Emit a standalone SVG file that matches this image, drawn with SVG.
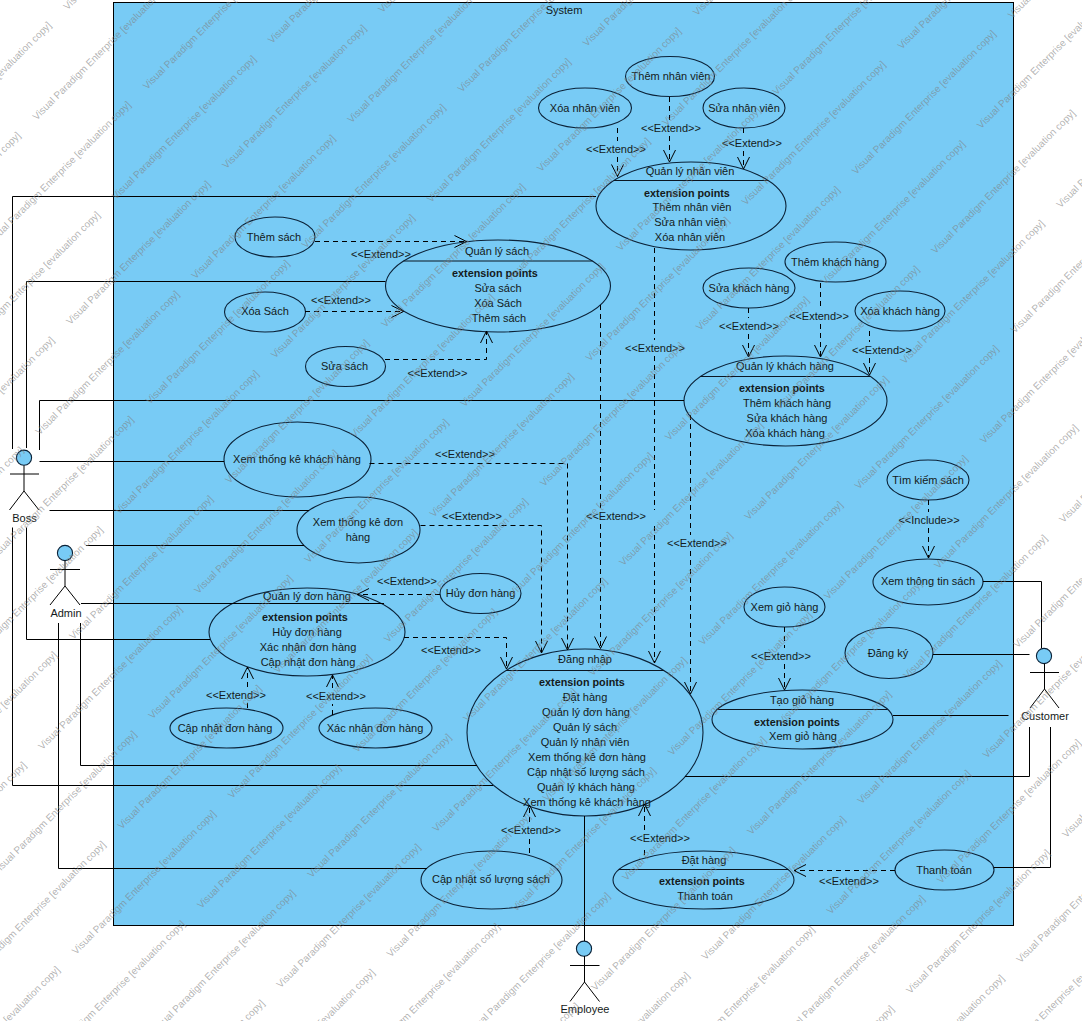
<svg xmlns="http://www.w3.org/2000/svg" width="1082" height="1021" viewBox="0 0 1082 1021">
<style>
text{font-family:"Liberation Sans",Arial,sans-serif;font-size:11px;fill:#141a20;text-anchor:middle}
.b{font-weight:bold;font-size:10.8px}
.uc{fill:#78cbf5;stroke:#0b2238;stroke-width:1.1}
.hd{fill:none;stroke:#0b1622;stroke-width:1}
.ac{fill:none;stroke:#000;stroke-width:1}
.act{fill:none;stroke:#000;stroke-width:1}
.head{fill:#78cbf5;stroke:#0b2238;stroke-width:1.1}
.ext{fill:none;stroke:#000;stroke-width:1;stroke-dasharray:5 4;marker-end:url(#open)}
#wc text{font-size:10px;fill:#7f7f7f;fill-opacity:.6;text-anchor:start}
</style>
<defs>
<marker id="open" markerUnits="userSpaceOnUse" markerWidth="16" markerHeight="16" refX="13" refY="8" orient="auto"><path d="M1,2 L13,8 L1,14" fill="none" stroke="#000" stroke-width="1"/></marker>
<g id="wc">
<text y="-61.4">Visual Paradigm Enterprise [evaluation copy]</text>
<text y="50.9">Visual Paradigm Enterprise [evaluation copy]</text>
<text y="163.2">Visual Paradigm Enterprise [evaluation copy]</text>
<text y="275.5">Visual Paradigm Enterprise [evaluation copy]</text>
<text y="387.8">Visual Paradigm Enterprise [evaluation copy]</text>
<text y="500.1">Visual Paradigm Enterprise [evaluation copy]</text>
<text y="612.4">Visual Paradigm Enterprise [evaluation copy]</text>
<text y="724.7">Visual Paradigm Enterprise [evaluation copy]</text>
<text y="837">Visual Paradigm Enterprise [evaluation copy]</text>
<text y="949.3">Visual Paradigm Enterprise [evaluation copy]</text>
<text y="1061.6">Visual Paradigm Enterprise [evaluation copy]</text>
<text y="1173.9">Visual Paradigm Enterprise [evaluation copy]</text>
<text y="1286.2">Visual Paradigm Enterprise [evaluation copy]</text>
<text y="1398.5">Visual Paradigm Enterprise [evaluation copy]</text>
<text y="1510.8">Visual Paradigm Enterprise [evaluation copy]</text>
</g>
</defs>
<rect width="1082" height="1021" fill="#fff"/>
<g id="system"><rect x="113.5" y="2.5" width="900" height="923" fill="#78cbf5" stroke="#000"/><text x="564" y="14">System</text></g>
<g id="nodes">
<g id="uc-them-nv"><ellipse class="uc" cx="670" cy="76.5" rx="44.5" ry="20"/><text x="671" y="80">Thêm nhân viên</text></g>
<g id="uc-xoa-nv"><ellipse class="uc" cx="585" cy="108" rx="46.5" ry="20"/><text x="585" y="112">Xóa nhân viên</text></g>
<g id="uc-sua-nv"><ellipse class="uc" cx="744" cy="108" rx="41" ry="20"/><text x="744" y="112">Sửa nhân viên</text></g>
<g id="uc-ql-nv"><ellipse class="uc" cx="691" cy="206" rx="95" ry="44"/><path class="hd" d="M614 180.5H768"/><text x="690" y="175">Quản lý nhân viên</text><text class="b" x="687" y="196.5">extension points</text><text x="692" y="211">Thêm nhân viên</text><text x="690" y="226">Sửa nhân viên</text><text x="690" y="241">Xóa nhân viên</text></g>
<g id="uc-ql-sach"><ellipse class="uc" cx="498" cy="286" rx="112.5" ry="46"/><path class="hd" d="M403.5 261H592.5"/><text x="497" y="255">Quản lý sách</text><text class="b" x="495" y="277">extension points</text><text x="498" y="292">Sửa sách</text><text x="498" y="307">Xóa Sách</text><text x="499" y="322">Thêm sách</text></g>
<g id="uc-them-sach"><ellipse class="uc" cx="275" cy="237" rx="40" ry="20"/><text x="274" y="241">Thêm sách</text></g>
<g id="uc-xoa-sach"><ellipse class="uc" cx="265" cy="312" rx="40.5" ry="20"/><text x="265" y="315">Xóa Sách</text></g>
<g id="uc-sua-sach"><ellipse class="uc" cx="345.5" cy="366.5" rx="40" ry="20"/><text x="344.5" y="370">Sửa sách</text></g>
<g id="uc-sua-kh"><ellipse class="uc" cx="749" cy="288" rx="46" ry="20"/><text x="749" y="292">Sửa khách hàng</text></g>
<g id="uc-them-kh"><ellipse class="uc" cx="835.5" cy="262" rx="50.5" ry="20"/><text x="835" y="266">Thêm khách hàng</text></g>
<g id="uc-xoa-kh"><ellipse class="uc" cx="900" cy="311" rx="45" ry="20"/><text x="900" y="315">Xóa khách hàng</text></g>
<g id="uc-ql-kh"><ellipse class="uc" cx="785.5" cy="401" rx="101.5" ry="45"/><path class="hd" d="M700 376.5H870.5"/><text x="785" y="370">Quản lý khách hàng</text><text class="b" x="782" y="392">extension points</text><text x="787" y="407">Thêm khách hàng</text><text x="787" y="422">Sửa khách hàng</text><text x="785" y="437">Xóa khách hàng</text></g>
<g id="uc-tk-kh"><ellipse class="uc" cx="297.5" cy="459.5" rx="73.5" ry="37.5"/><text x="297" y="463">Xem thống kê khách hàng</text></g>
<g id="uc-tk-dh"><ellipse class="uc" cx="358.5" cy="530" rx="61.5" ry="33"/><text x="358" y="526">Xem thống kê đơn</text><text x="358" y="541">hàng</text></g>
<g id="uc-tim"><ellipse class="uc" cx="928" cy="480" rx="41" ry="20"/><text x="928" y="484">Tìm kiếm sách</text></g>
<g id="uc-xem-tt"><ellipse class="uc" cx="928" cy="582" rx="55" ry="23"/><text x="928" y="585">Xem thông tin sách</text></g>
<g id="uc-dk"><ellipse class="uc" cx="889" cy="653" rx="44" ry="25.5"/><text x="888" y="657">Đăng ký</text></g>
<g id="uc-xem-gh"><ellipse class="uc" cx="784.5" cy="607" rx="40.5" ry="20"/><text x="784.5" y="611">Xem giỏ hàng</text></g>
<g id="uc-tao-gh"><ellipse class="uc" cx="802.5" cy="719.5" rx="90.5" ry="29.5"/><path class="hd" d="M717.5 709.5H887.5"/><text x="802" y="704">Tạo giỏ hàng</text><text class="b" x="797" y="725.5">extension points</text><text x="803" y="740">Xem giỏ hàng</text></g>
<g id="uc-dn"><ellipse class="uc" cx="585" cy="732.5" rx="118" ry="83.5"/><path class="hd" d="M506 670.5H664"/><text x="585" y="663">Đăng nhập</text><text class="b" x="582" y="686">extension points</text><text x="585" y="701">Đặt hàng</text><text x="586" y="716">Quản lý đơn hàng</text><text x="585" y="731">Quản lý sách</text><text x="585" y="746">Quản lý nhân viên</text><text x="587" y="761">Xem thống kê đơn hàng</text><text x="586" y="776">Cập nhật số lượng sách</text><text x="586" y="791">Quản lý khách hàng</text><text x="587" y="806">Xem thống kê khách hàng</text></g>
<g id="uc-dat"><ellipse class="uc" cx="703.5" cy="880" rx="90.5" ry="29"/><path class="hd" d="M619 869.5H788"/><text x="704" y="864">Đặt hàng</text><text class="b" x="702" y="885">extension points</text><text x="705" y="900">Thanh toán</text></g>
<g id="uc-cn-sl"><ellipse class="uc" cx="491.5" cy="880" rx="70.5" ry="29"/><text x="491" y="883">Cập nhật số lượng sách</text></g>
<g id="uc-tt"><ellipse class="uc" cx="944.5" cy="870" rx="49.5" ry="20"/><text x="944" y="874">Thanh toán</text></g>
<g id="uc-ql-dh"><ellipse class="uc" cx="307" cy="632" rx="98" ry="44"/><text x="307" y="600">Quản lý đơn hàng</text><text class="b" x="305" y="621">extension points</text><text x="307" y="636">Hủy đơn hàng</text><text x="308" y="651">Xác nhận đơn hàng</text><text x="308" y="666">Cập nhật đơn hàng</text></g>
<g id="uc-huy"><ellipse class="uc" cx="480.5" cy="593.5" rx="40.5" ry="20"/><text x="480.5" y="597">Hủy đơn hàng</text></g>
<g id="uc-cn-dh"><ellipse class="uc" cx="226.5" cy="728" rx="56.5" ry="20"/><text x="225" y="732">Cập nhật đơn hàng</text></g>
<g id="uc-xn-dh"><ellipse class="uc" cx="375.5" cy="728" rx="56.5" ry="20"/><text x="375" y="732">Xác nhận đơn hàng</text></g>
<g id="actor-boss"><circle class="head" cx="24" cy="457.7" r="7.6"/><path class="act" d="M24 465.5V491M10 474H39M24 491L9.5 510M24 491L39 510"/><text x="24.5" y="522">Boss</text></g>
<g id="actor-admin"><circle class="head" cx="65" cy="553" r="7.6"/><path class="act" d="M65 560.5V586M50 569.5H80M65 586L50 605M65 586L80 605"/><text x="66" y="617">Admin</text></g>
<g id="actor-employee"><circle class="head" cx="584" cy="948.7" r="7.6"/><path class="act" d="M584.5 956V982M570 965.5H599.5M584.5 982L570 1001.5M584.5 982L599.5 1001.5"/><text x="585" y="1013">Employee</text></g>
<g id="actor-customer"><circle class="head" cx="1044" cy="656" r="7.6"/><path class="act" d="M1044.5 663.5V689M1030 672.5H1059M1044.5 689L1030 708M1044.5 689L1059 708"/><text x="1045" y="720">Customer</text></g>
</g>
<g id="connectors">
<path class="ac" d="M12.5 449V196.5H596"/>
<path class="ac" d="M26.5 448V281.5H385.5"/>
<path class="ac" d="M39.5 450V400.5H684"/>
<path class="ac" d="M39.5 461.5H224"/>
<path class="ac" d="M49.5 510.5H309"/>
<path class="ac" d="M26.5 527.5V639.5H210"/>
<path class="ac" d="M12.5 527.5V785.5H493"/>
<path class="ac" d="M86 545.5H304"/>
<path class="ac" d="M81 603.5H384"/>
<path class="ac" d="M80.5 623V765.5H477"/>
<path class="ac" d="M58.5 623V868.5H427"/>
<path class="ac" d="M584.5 816V941"/>
<path class="ac" d="M983 581.5H1041.5V648"/>
<path class="ac" d="M933 654.5H1029.5"/>
<path class="ac" d="M893 715.5H1008.5"/>
<path class="ac" d="M685 776.5H1029.5V727"/>
<path class="ac" d="M994 867.5H1050.5V727"/>
<path class="ext" d="M617.5 128V141M617.5 157V176.5"/>
<path class="ext" d="M669.5 97V120M669.5 136V162"/>
<path class="ext" d="M743.5 128V135M743.5 151V169"/>
<path class="ext" d="M315 241.5H466.5"/>
<path class="ext" d="M305 311.5H403.5"/>
<path class="ext" d="M385 359.5H486.5V331"/>
<path class="ext" d="M748.5 308V318M748.5 334V357"/>
<path class="ext" d="M820.5 283V308M820.5 324V357"/>
<path class="ext" d="M869.5 331V342M869.5 358V375"/>
<path class="ext" d="M654.5 248V340M654.5 356V510M654.5 526V663"/>
<path class="ext" d="M600.5 305V508M600.5 524V648.5"/>
<path class="ext" d="M690.5 415V535M690.5 551V694"/>
<path class="ext" d="M369.5 463.5H567.5V650"/>
<path class="ext" d="M420.5 525.5H541.5V653"/>
<path class="ext" d="M404 637.5H506.5V669"/>
<path class="ext" d="M440 594.5H357"/>
<path class="ext" d="M247.5 708V703M247.5 687V667"/>
<path class="ext" d="M332.5 715V704M332.5 688V675"/>
<path class="ext" d="M529.5 853V838M529.5 822V805"/>
<path class="ext" d="M644.5 855V846M644.5 830V804"/>
<path class="ext" d="M895 870.5H794"/>
<path class="ext" d="M784.5 627V648M784.5 664V690"/>
<path class="ext" d="M928.5 500V512M928.5 528V558"/>
<text x="616" y="153">&lt;&lt;Extend&gt;&gt;</text>
<text x="671" y="132">&lt;&lt;Extend&gt;&gt;</text>
<text x="752" y="147">&lt;&lt;Extend&gt;&gt;</text>
<text x="381" y="258">&lt;&lt;Extend&gt;&gt;</text>
<text x="341" y="304">&lt;&lt;Extend&gt;&gt;</text>
<text x="437.5" y="377">&lt;&lt;Extend&gt;&gt;</text>
<text x="749" y="330">&lt;&lt;Extend&gt;&gt;</text>
<text x="819" y="320">&lt;&lt;Extend&gt;&gt;</text>
<text x="882" y="354">&lt;&lt;Extend&gt;&gt;</text>
<text x="655" y="352">&lt;&lt;Extend&gt;&gt;</text>
<text x="616" y="520">&lt;&lt;Extend&gt;&gt;</text>
<text x="697" y="547">&lt;&lt;Extend&gt;&gt;</text>
<text x="465" y="458">&lt;&lt;Extend&gt;&gt;</text>
<text x="472" y="520">&lt;&lt;Extend&gt;&gt;</text>
<text x="451" y="654">&lt;&lt;Extend&gt;&gt;</text>
<text x="407" y="585">&lt;&lt;Extend&gt;&gt;</text>
<text x="236" y="699">&lt;&lt;Extend&gt;&gt;</text>
<text x="336" y="700">&lt;&lt;Extend&gt;&gt;</text>
<text x="531" y="834">&lt;&lt;Extend&gt;&gt;</text>
<text x="660" y="842">&lt;&lt;Extend&gt;&gt;</text>
<text x="849" y="885">&lt;&lt;Extend&gt;&gt;</text>
<text x="781" y="660">&lt;&lt;Extend&gt;&gt;</text>
<text x="929" y="524">&lt;&lt;Include&gt;&gt;</text>
</g>
<g id="watermark" transform="translate(4 2) rotate(-45)">
<use href="#wc" x="-843.5" y="0"/><use href="#wc" x="-622.9" y="0"/><use href="#wc" x="-402.3" y="0"/><use href="#wc" x="-181.7" y="0"/><use href="#wc" x="38.9" y="0"/><use href="#wc" x="259.5" y="0"/><use href="#wc" x="480.1" y="0"/><use href="#wc" x="700.7" y="0"/>
<use href="#wc" x="-943.2" y="56.1"/><use href="#wc" x="-722.6" y="56.1"/><use href="#wc" x="-502" y="56.1"/><use href="#wc" x="-281.4" y="56.1"/><use href="#wc" x="-60.8" y="56.1"/><use href="#wc" x="159.8" y="56.1"/><use href="#wc" x="380.4" y="56.1"/><use href="#wc" x="601" y="56.1"/>
</g>
</svg>
